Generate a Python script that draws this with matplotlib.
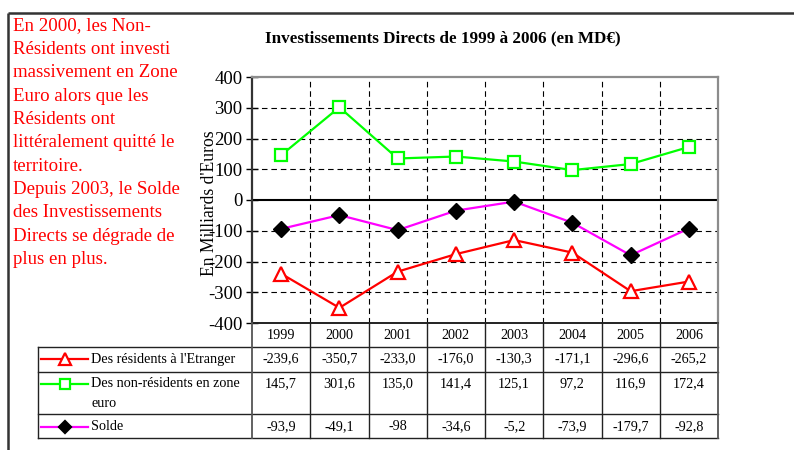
import matplotlib
matplotlib.use("Agg")
import matplotlib.pyplot as plt
import numpy as np

plt.rcParams['font.family'] = ['Liberation Serif', 'DejaVu Serif']

years = ['1999', '2000', '2001', '2002', '2003', '2004', '2005', '2006']
residents = [-239.6, -350.7, -233.0, -176.0, -130.3, -171.1, -296.6, -265.2]
non_residents = [145.7, 301.6, 135.0, 141.4, 125.1, 97.2, 116.9, 172.4]
solde = [-93.9, -49.1, -98.0, -34.6, -5.2, -73.9, -179.7, -92.8]
series_names = ["Des résidents à l'Etranger", "Des non-résidents en zone", "euro", "Solde"]
title = "Investissements Directs de 1999 à 2006 (en MD€)"
ylabel = "En Milliards d'Euros"
yticks = [-400, -300, -200, -100, 0, 100, 200, 300, 400]
comment_lines = ["En 2000, les Non-", "Résidents ont investi", "massivement en Zone",
                 "Euro alors que les", "Résidents ont", "littéralement quitté le",
                 "territoire.", "Depuis 2003, le Solde", "des Investissements",
                 "Directs se dégrade de", "plus en plus."]

W, H = 794, 450
fig = plt.figure(figsize=(W / 100, H / 100), dpi=100)

# overlay in pixel coordinates for frame, comment and table
ov = fig.add_axes([0, 0, 1, 1], zorder=3)
ov.set_xlim(0, W)
ov.set_ylim(H, 0)
ov.axis('off')
ov.patch.set_alpha(0)

# chart axes
L, R, T, B = 252, 718, 77, 323
ax = fig.add_axes([L / W, 1 - B / H, (R - L) / W, (B - T) / H], zorder=2)
ax.patch.set_alpha(0)
x = np.arange(len(years))
ax.set_xlim(-0.5, len(years) - 0.5)
ax.set_ylim(-400, 400)

dash = (0, (5, 3.5))
for yv in yticks[1:-1]:
    if yv != 0:
        ax.axhline(yv, color='black', lw=0.8, ls=dash, zorder=1)
for xv in np.arange(0.5, len(years) - 0.5, 1):
    ax.axvline(xv, color='black', lw=0.8, ls=dash, zorder=1)
ax.axhline(0, color='black', lw=1.5, zorder=2)

ax.plot(x, non_residents, color='#00ff00', lw=1.6, marker='s', ms=9,
        mfc='white', mec='#00ff00', mew=1.6, zorder=3)
ax.plot(x, solde, color='#ff00ff', lw=1.6, marker='D', ms=8,
        mfc='black', mec='black', zorder=3)
ax.plot(x, residents, color='#ff0000', lw=1.6, marker='^', ms=10,
        mfc='white', mec='#ff0000', mew=1.6, zorder=3)

ax.set_yticks(yticks)
ax.set_yticklabels([str(v) for v in yticks], fontsize=13.5)
ax.set_xticks([])
ax.tick_params(axis='y', direction='inout', length=8, width=1, pad=3)
ax.spines['left'].set_color('#333333')
ax.spines['left'].set_linewidth(1.6)
ax.spines['bottom'].set_color('#222222')
ax.spines['bottom'].set_linewidth(1.4)
for s in ('top', 'right'):
    ax.spines[s].set_color('#8c8c8c')
    ax.spines[s].set_linewidth(1.6)

ov.text(443, 38, title, ha='center', va='center', fontsize=12.3, fontweight='bold')
ov.text(209, 203, ylabel, rotation=90, ha='center', va='center', fontsize=12.7, zorder=5)

# outer frame
ov.plot([8, W], [12.5, 12.5], color='#333333', lw=1.8, solid_capstyle='butt')
ov.plot([8, 8], [12.5, H], color='#333333', lw=1.8, solid_capstyle='butt')

# comment text
for i, line in enumerate(comment_lines):
    ov.text(13, 26 + i * 23.35, line, color='#ff0000', fontsize=13.6,
            ha='left', va='center')

# data table
colw = (R - L) / len(years)
tl = dict(color='#222222', lw=1.0)
row_y = [323, 347, 372, 414, 438]
for yy in row_y[1:]:
    ov.plot([38, R], [yy, yy], **tl)
ov.plot([38, 38], [347, 438], **tl)
for k in range(len(years) + 1):
    edge = k in (0, len(years))
    ov.plot([L + k * colw] * 2, [323, 438], color='#555555' if edge else '#222222',
            lw=1.3 if edge else 1.0)

fs = 10.2
for k, yr in enumerate(years):
    cx = L + (k + 0.5) * colw
    ov.text(cx, 335.5, yr, ha='center', va='center', fontsize=fs)
    ov.text(cx, 359, f"{residents[k]:.1f}".replace('.', ','), ha='center', va='center', fontsize=fs)
    ov.text(cx, 383.5, f"{non_residents[k]:.1f}".replace('.', ','), ha='center', va='center', fontsize=fs)
    ov.text(cx, 426.5, ('%g' % solde[k]).replace('.', ','), ha='center', va='center', fontsize=fs)

# legend keys
keys = [
    (359, '#ff0000', '^', 'white', '#ff0000', 8),
    (383.5, '#00ff00', 's', 'white', '#00ff00', 7),
    (426.5, '#ff00ff', 'D', 'black', 'black', 6),
]
for yy, c, m, fc, ec, ms in keys:
    ov.plot([41, 88], [yy, yy], color=c, lw=1.6)
    ov.plot([65], [yy], marker=m, ms=ms, mfc=fc, mec=ec, mew=1.6, color=c)
ov.text(91, 359, series_names[0], ha='left', va='center', fontsize=fs)
ov.text(91, 383.5, series_names[1], ha='left', va='center', fontsize=fs)
ov.text(91, 403.5, series_names[2], ha='left', va='center', fontsize=fs)
ov.text(91, 426.5, series_names[3], ha='left', va='center', fontsize=fs)

fig.savefig('out.png', dpi=100)
